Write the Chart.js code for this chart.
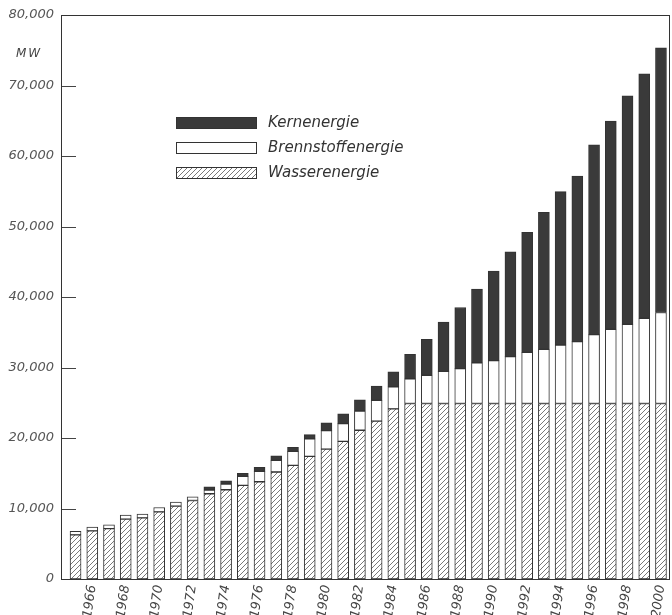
<!DOCTYPE html>
<html>
<head>
  <title>Kraftwerksleistung</title>
  <script src="https://cdn.jsdelivr.net/npm/chart.js"></script>
  <style>
    html, body { margin: 0; padding: 0; background: #fff; overflow: hidden; }
    #wrap { width: 672px; height: 615px; }
  </style>
</head>
<body>

<div id="wrap"><canvas id="capChart"></canvas></div>

<script>
  const years = [1965, 1966, 1967, 1968, 1969, 1970, 1971, 1972, 1973, 1974, 1975, 1976,
                 1977, 1978, 1979, 1980, 1981, 1982, 1983, 1984, 1985, 1986, 1987, 1988,
                 1989, 1990, 1991, 1992, 1993, 1994, 1995, 1996, 1997, 1998, 1999, 2000];
  const xTicks = [1966, 1968, 1970, 1972, 1974, 1976, 1978, 1980, 1982,
                  1984, 1986, 1988, 1990, 1992, 1994, 1996, 1998, 2000];
  const yTicks = [0, 10000, 20000, 30000, 40000, 50000, 60000, 70000, 80000];

  // MW per year
  const wasser = [6250, 6830, 7150, 8490, 8680, 9530, 10340, 11140, 12090, 12660, 13270, 13800,
                  15180, 16120, 17400, 18420, 19530, 21100, 22400, 24140, 24900, 24900, 24900, 24900,
                  24900, 24900, 24900, 24900, 24900, 24900, 24900, 24900, 24900, 24900, 24900, 24900];
  const brenn = [500, 520, 530, 570, 520, 610, 570, 530, 530, 810, 1280, 1460,
                 1650, 1990, 2470, 2630, 2520, 2730, 2930, 3130, 3510, 4000, 4550, 4930,
                 5780, 6070, 6640, 7250, 7680, 8290, 8770, 9770, 10520, 11230, 12090, 12900];
  const kern = [null, null, null, null, null, null, null, null, 470, 470, 430, 570,
                630, 570, 610, 1100, 1380, 1590, 2020, 2130, 3460, 5100, 7010, 8680,
                10430, 12700, 14880, 17030, 19440, 21760, 23470, 26920, 29540, 32390, 34660, 37550];

  const labels = ['Wasserenergie', 'Brennstoffenergie', 'Kernenergie'];

  function hatchPattern() {
    const c = document.createElement('canvas');
    c.width = 5; c.height = 5;
    const g = c.getContext('2d');
    g.fillStyle = '#fff';
    g.fillRect(0, 0, 5, 5);
    g.strokeStyle = '#6a6a6a';
    g.lineWidth = 0.9;
    g.beginPath();
    g.moveTo(-1, 6); g.lineTo(6, -1);
    g.stroke();
    return g.createPattern(c, 'repeat');
  }

  const hatch = hatchPattern();
  const fills = [hatch, '#ffffff', '#3a3a3a'];
  const series = [wasser, brenn, kern];

  const font = 'DejaVu Sans';

  const framePlugin = {
    id: 'frame',
    beforeDatasetsDraw(chart) {
      const { ctx, chartArea: a, scales } = chart;
      ctx.save();
      ctx.strokeStyle = '#444';
      ctx.lineWidth = 1;
      ctx.beginPath();
      yTicks.slice(1, -1).forEach(v => {
        const y = Math.round(scales.y.getPixelForValue(v)) + 0.5;
        ctx.moveTo(a.left, y);
        ctx.lineTo(a.left + 15, y);
      });
      ctx.stroke();
      ctx.restore();
    },
    afterDraw(chart) {
      const { ctx, chartArea: a } = chart;
      ctx.save();
      ctx.strokeStyle = '#333';
      ctx.lineWidth = 1;
      ctx.strokeRect(Math.round(a.left) + 0.5, Math.round(a.top) + 0.5,
                     Math.round(a.right - a.left) - 1, Math.round(a.bottom - a.top));

      // unit label
      ctx.fillStyle = '#444';
      ctx.font = 'italic 12px "' + font + '"';
      ctx.textBaseline = 'middle';
      ctx.letterSpacing = '2px';
      ctx.fillText('MW', 16, 54);
      ctx.letterSpacing = '0px';

      // legend
      const order = [2, 1, 0];
      order.forEach((d, i) => {
        const y = 117 + i * 25;
        ctx.fillStyle = fills[d];
        ctx.fillRect(176, y, 80, 11);
        ctx.strokeStyle = '#333';
        ctx.strokeRect(176.5, y + 0.5, 80, 11);
        ctx.fillStyle = '#333';
        ctx.font = 'italic 15px "' + font + '"';
        ctx.fillText(chart.data.datasets[d].label, 268, y + 6);
      });
      ctx.restore();
    }
  };

  const ctx = document.getElementById('capChart').getContext('2d');
  window.capChart = new Chart(ctx, {
    type: 'bar',
    data: {
      datasets: series.map((vals, d) => ({
        label: labels[d],
        data: years.map((yr, i) => ({ x: yr, y: vals[i] })),
        backgroundColor: fills[d],
        borderColor: '#333',
        borderWidth: 1,
        borderSkipped: false,
        barThickness: 11
      }))
    },
    options: {
      responsive: true,
      maintainAspectRatio: false,
      animation: false,
      layout: { padding: { top: 15, right: 2, left: 0, bottom: 0 } },
      plugins: {
        legend: { display: false },
        tooltip: { enabled: false }
      },
      scales: {
        x: {
          type: 'linear',
          stacked: true,
          offset: false,
          min: 1964.13,
          max: 2000.54,
          grid: { display: false, drawTicks: false },
          border: { display: false },
          afterBuildTicks: s => { s.ticks = xTicks.map(v => ({ value: v })); },
          afterFit: s => {
            s.height = 36;
            s.paddingLeft = 0;
            s.paddingRight = 0;
          },
          ticks: {
            autoSkip: false,
            minRotation: 82,
            maxRotation: 82,
            padding: 5,
            color: '#444',
            font: { family: font, style: 'italic', size: 13 },
            callback: v => String(v)
          }
        },
        y: {
          stacked: true,
          min: 0,
          max: 80000,
          grid: { display: false, drawTicks: false },
          border: { display: false },
          afterBuildTicks: s => { s.ticks = yTicks.map(v => ({ value: v })); },
          afterFit: s => { s.width = 61; },
          ticks: {
            padding: 7,
            color: '#555',
            font: { family: font, style: 'italic', size: 13 },
            callback: v => v.toLocaleString('en-US')
          }
        }
      }
    },
    plugins: [framePlugin]
  });
</script>

</body>
</html>
